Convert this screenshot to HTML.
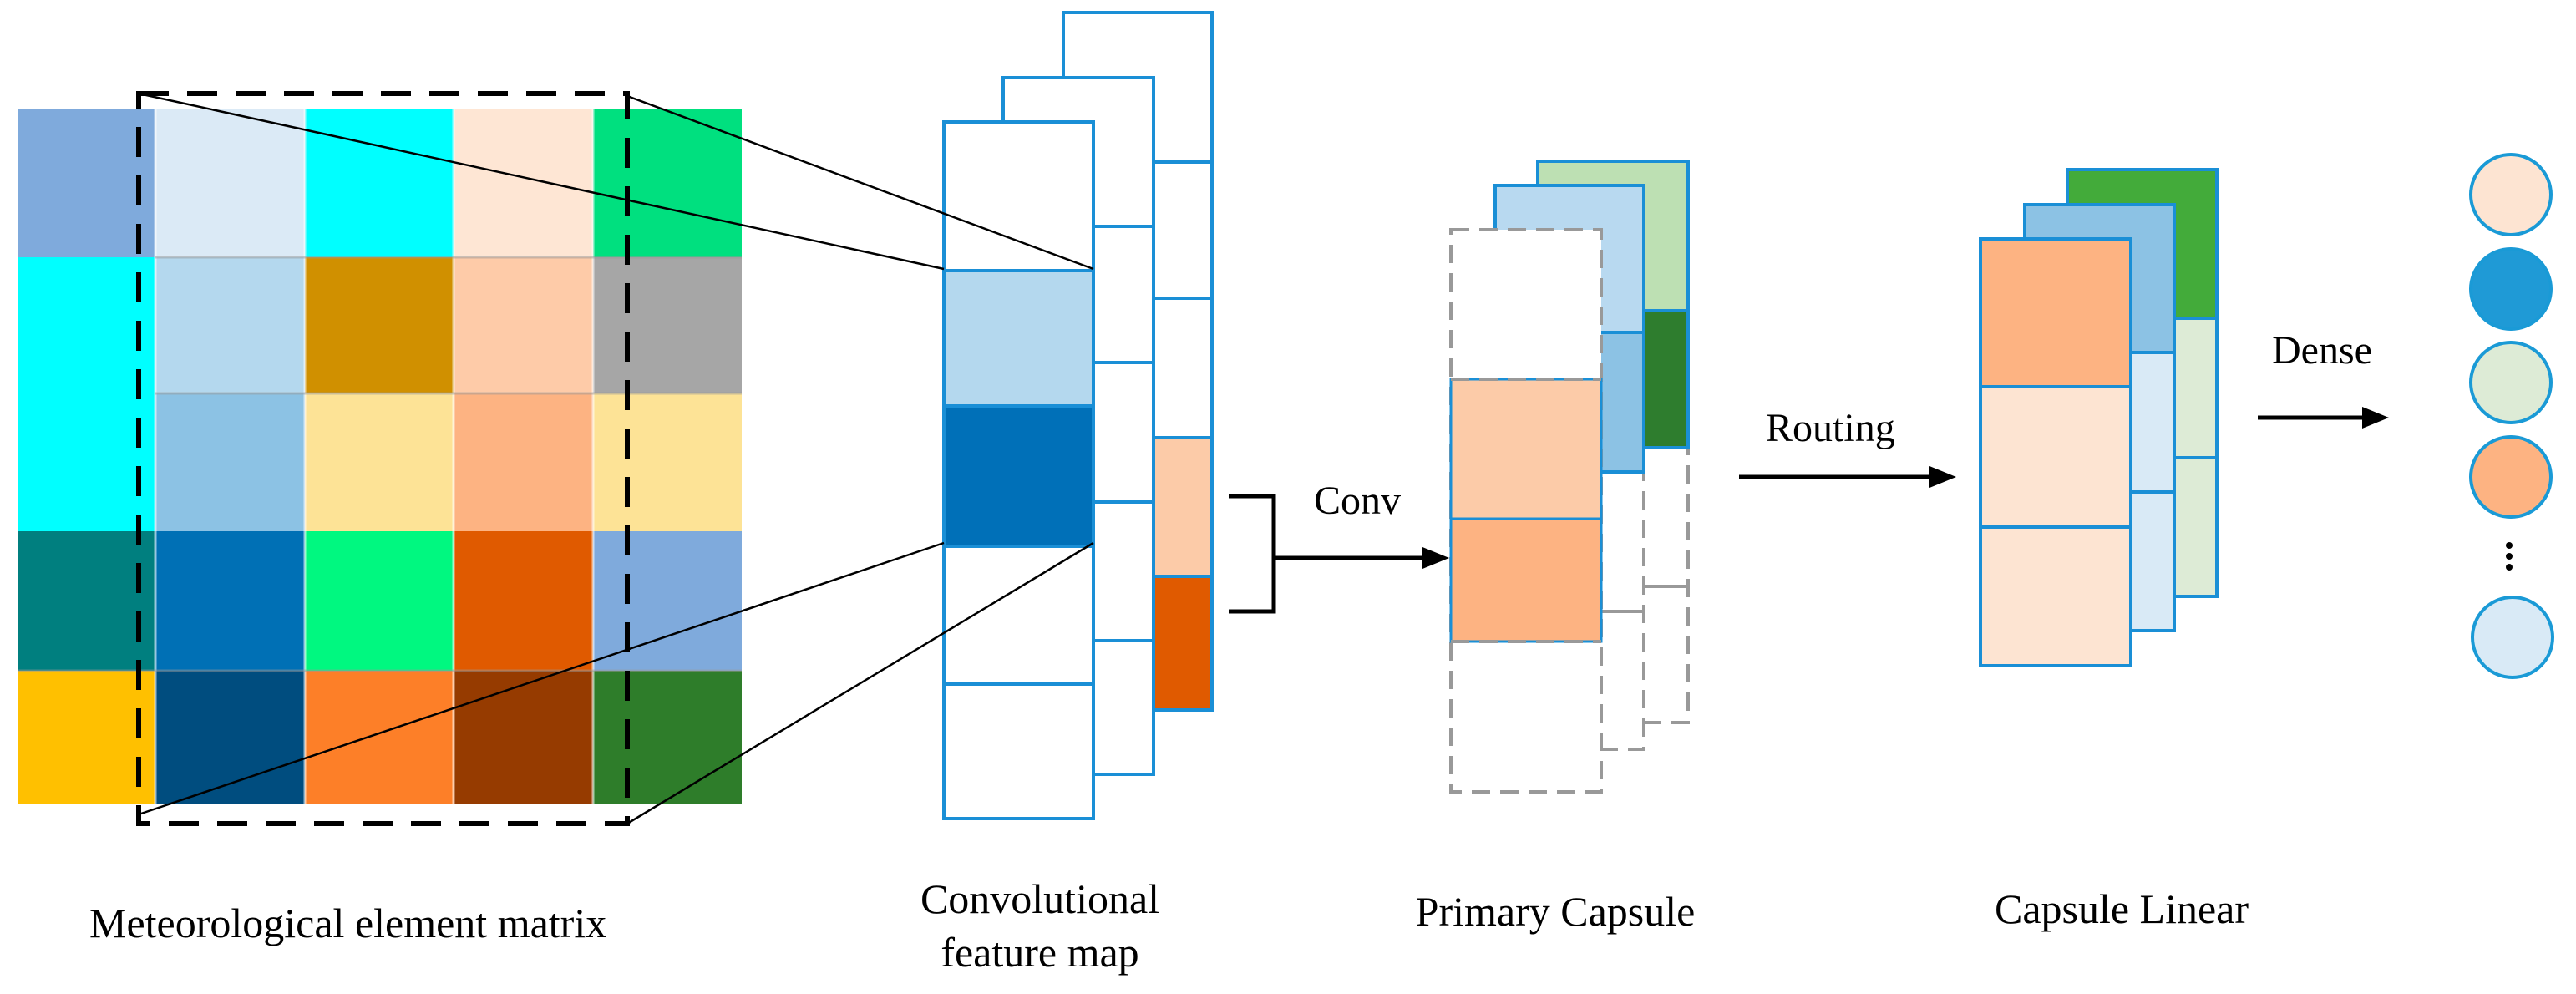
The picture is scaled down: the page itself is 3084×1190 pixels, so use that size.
<!DOCTYPE html>
<html><head><meta charset="utf-8"><style>
html,body{margin:0;padding:0;background:#fff;}
svg{display:block;}
text{font-family:"Liberation Serif",serif;fill:#000;}
</style></head><body>
<svg width="3084" height="1190" viewBox="0 0 3084 1190" xmlns="http://www.w3.org/2000/svg">
<!-- grid -->
<g>
<rect x="22" y="130" width="164" height="178" fill="#7faadc"/>
<rect x="186" y="130" width="179" height="178" fill="#dbeaf6"/>
<rect x="365" y="130" width="178" height="178" fill="#00ffff"/>
<rect x="543" y="130" width="167" height="178" fill="#fee6d4"/>
<rect x="710" y="130" width="178" height="178" fill="#00e07f"/>

<rect x="22" y="308" width="164" height="163" fill="#00ffff"/>
<rect x="186" y="308" width="179" height="163" fill="#b4d8ee"/>
<rect x="365" y="308" width="178" height="163" fill="#d09000"/>
<rect x="543" y="308" width="167" height="163" fill="#fecba8"/>
<rect x="710" y="308" width="178" height="163" fill="#a6a6a6"/>

<rect x="22" y="471" width="164" height="165" fill="#00ffff"/>
<rect x="186" y="471" width="179" height="165" fill="#8cc2e4"/>
<rect x="365" y="471" width="178" height="165" fill="#fde396"/>
<rect x="543" y="471" width="167" height="165" fill="#fdb382"/>
<rect x="710" y="471" width="178" height="165" fill="#fde396"/>

<rect x="22" y="636" width="164" height="167" fill="#007f7f"/>
<rect x="186" y="636" width="179" height="167" fill="#0070b5"/>
<rect x="365" y="636" width="178" height="167" fill="#00f880"/>
<rect x="543" y="636" width="167" height="167" fill="#e05a00"/>
<rect x="710" y="636" width="178" height="167" fill="#7faadc"/>

<rect x="22" y="803" width="164" height="160" fill="#ffc000"/>
<rect x="186" y="803" width="179" height="160" fill="#004d7f"/>
<rect x="365" y="803" width="178" height="160" fill="#fd7f28"/>
<rect x="543" y="803" width="167" height="160" fill="#963b00"/>
<rect x="710" y="803" width="178" height="160" fill="#2e7d2a"/>
<g stroke="#ffffff" stroke-width="3" opacity="0.6">
<line x1="186" y1="130" x2="186" y2="963"/><line x1="365" y1="130" x2="365" y2="963"/>
<line x1="543" y1="130" x2="543" y2="963"/><line x1="710" y1="130" x2="710" y2="963"/>
</g>
<g stroke="#999" stroke-width="3" opacity="0.5">
<line x1="186" y1="308" x2="888" y2="308"/><line x1="186" y1="471" x2="888" y2="471"/>
<line x1="22" y1="803" x2="888" y2="803"/>
</g>
</g>
<rect x="166" y="112" width="585" height="874" fill="none" stroke="#000" stroke-width="6" stroke-dasharray="36,22"/>
<!-- conv feature map -->
<g stroke="#1a8fd6" stroke-width="4">
<rect x="1273" y="15" width="178" height="835" fill="#fff"/>
<rect x="1273" y="524" width="178" height="166" fill="#fccba8"/>
<rect x="1273" y="690" width="178" height="160" fill="#e05a00"/>
<line x1="1273" y1="194" x2="1451" y2="194"/><line x1="1273" y1="357" x2="1451" y2="357"/>
<rect x="1201" y="93" width="180" height="834" fill="#fff"/>
<line x1="1201" y1="271" x2="1381" y2="271"/><line x1="1201" y1="434" x2="1381" y2="434"/>
<line x1="1201" y1="601" x2="1381" y2="601"/><line x1="1201" y1="767" x2="1381" y2="767"/>
<rect x="1130" y="146" width="179" height="834" fill="#fff"/>
<rect x="1130" y="324" width="179" height="162" fill="#b4d8ee"/>
<rect x="1130" y="486" width="179" height="168" fill="#0070b8"/>
<line x1="1130" y1="819" x2="1309" y2="819"/>
</g>
<!-- projection lines (on top) -->
<g stroke="#000" stroke-width="2.5">
<line x1="166" y1="112" x2="1130" y2="322"/>
<line x1="751" y1="115" x2="1309" y2="322"/>
<line x1="166" y1="975" x2="1130" y2="650"/>
<line x1="751" y1="986" x2="1309" y2="650"/>
</g>
<!-- bracket + conv arrow -->
<polyline points="1471,594 1525,594 1525,732 1471,732" fill="none" stroke="#000" stroke-width="5"/>
<line x1="1525" y1="668" x2="1705" y2="668" stroke="#000" stroke-width="5"/>
<polygon points="1735,668 1703,655 1703,681" fill="#000"/>
<text x="1573" y="615" font-size="48">Conv</text>
<!-- primary capsule -->
<g stroke-width="4">
<rect x="1841" y="193" width="180" height="672" fill="#fff" stroke="#999" stroke-dasharray="22,12"/>
<rect x="1841" y="193" width="180" height="179" fill="#bde0b3" stroke="#1a8fd6"/>
<rect x="1841" y="372" width="180" height="164" fill="#2e7d2e" stroke="#1a8fd6"/>
<line x1="1841" y1="702" x2="2021" y2="702" stroke="#999"/>
<rect x="1790" y="222" width="178" height="675" fill="#fff" stroke="#999" stroke-dasharray="22,12"/>
<rect x="1790" y="222" width="178" height="176" fill="#b8d9f0" stroke="#1a8fd6"/>
<rect x="1790" y="398" width="178" height="167" fill="#8cc2e4" stroke="#1a8fd6"/>
<line x1="1790" y1="732" x2="1968" y2="732" stroke="#999"/>
<rect x="1737" y="275" width="180" height="673" fill="#fff" stroke="#999" stroke-dasharray="22,12"/>
<rect x="1737" y="454" width="180" height="167" fill="#fccba8" stroke="#1a8fd6" stroke-width="3"/>
<rect x="1737" y="621" width="180" height="147" fill="#fdb382" stroke="#1a8fd6" stroke-width="3"/>
<line x1="1737" y1="454" x2="1917" y2="454" stroke="#999" stroke-dasharray="22,12"/>
<line x1="1737" y1="768" x2="1917" y2="768" stroke="#999" stroke-dasharray="22,12"/>
</g>
<!-- routing arrow -->
<line x1="2082" y1="571" x2="2312" y2="571" stroke="#000" stroke-width="5"/>
<polygon points="2342,571 2310,558 2310,584" fill="#000"/>
<text x="2114" y="528" font-size="48">Routing</text>
<!-- capsule linear -->
<g stroke="#1a8fd6" stroke-width="4">
<rect x="2475" y="203" width="179" height="511" fill="#ddebd6"/>
<rect x="2475" y="203" width="179" height="178" fill="#43ab3a"/>
<line x1="2475" y1="548" x2="2654" y2="548"/>
<rect x="2424" y="245" width="179" height="510" fill="#d9eaf6"/>
<rect x="2424" y="245" width="179" height="177" fill="#8cc2e4"/>
<line x1="2424" y1="589" x2="2603" y2="589"/>
<rect x="2371" y="286" width="180" height="511" fill="#fde4d2"/>
<rect x="2371" y="286" width="180" height="177" fill="#fdb382"/>
<line x1="2371" y1="631" x2="2551" y2="631"/>
</g>
<!-- dense arrow -->
<line x1="2703" y1="500" x2="2832" y2="500" stroke="#000" stroke-width="5"/>
<polygon points="2860,500 2828,487 2828,513" fill="#000"/>
<text x="2720" y="435" font-size="48">Dense</text>
<!-- output circles -->
<g stroke="#1a9ad6" stroke-width="4">
<circle cx="3006" cy="233" r="48" fill="#fde4d2"/>
<circle cx="3006" cy="346" r="48" fill="#1f9ad6"/>
<circle cx="3006" cy="458" r="48" fill="#ddebd6"/>
<circle cx="3006" cy="571" r="48" fill="#fdb382"/>
<circle cx="3008" cy="763" r="48" fill="#d9eaf6"/>
</g>
<g fill="#000"><circle cx="3004" cy="653" r="4"/><circle cx="3004" cy="666" r="4"/><circle cx="3004" cy="679" r="4"/></g>
<!-- labels -->
<text x="107" y="1122" font-size="50">Meteorological element matrix</text>
<text x="1245" y="1093" font-size="50" text-anchor="middle">Convolutional</text>
<text x="1245" y="1157" font-size="50" text-anchor="middle">feature map</text>
<text x="1862" y="1108" font-size="50" text-anchor="middle">Primary Capsule</text>
<text x="2540" y="1105" font-size="50" text-anchor="middle">Capsule Linear</text>
</svg>
</body></html>
